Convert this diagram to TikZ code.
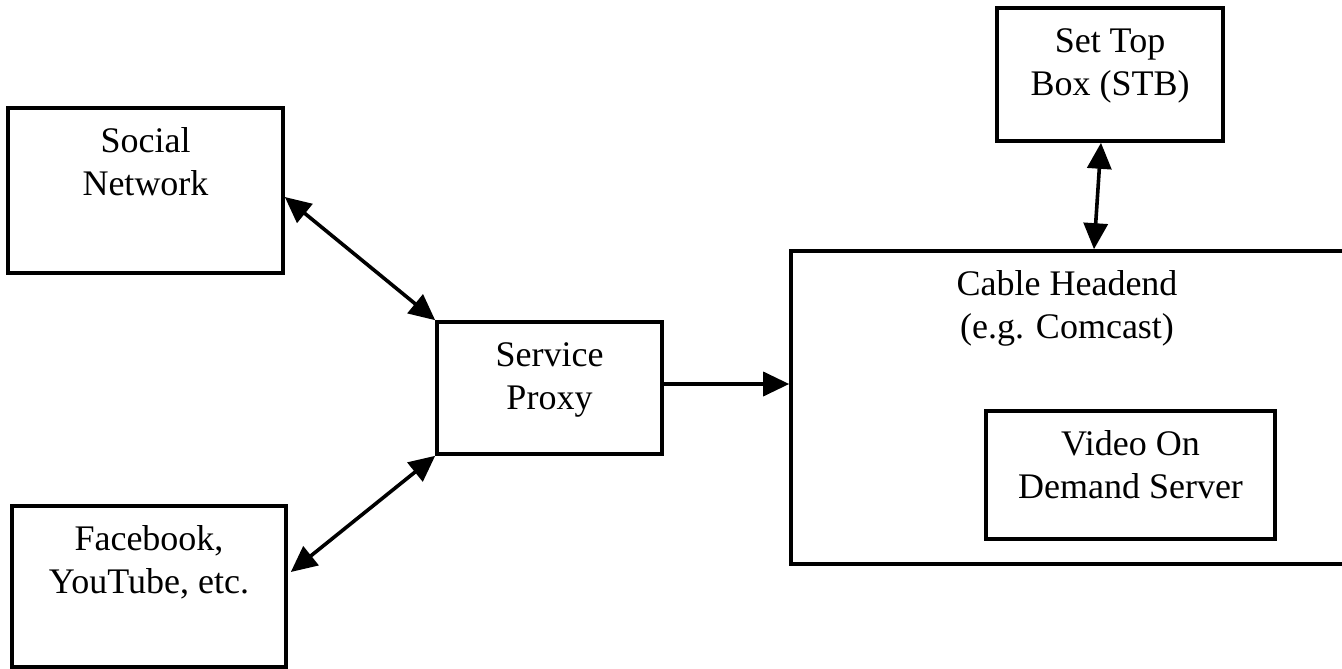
\documentclass[tikz,border=0pt]{standalone}
\usepackage{fontspec}
\setmainfont{Liberation Serif}
\usetikzlibrary{arrows.meta}
\tikzset{
  box/.style={draw, line width=3.6pt, rectangle, inner sep=0pt},
  lbl/.style={anchor=north, inner sep=0pt, align=center, font=\fontsize{36pt}{43pt}\selectfont},
  conn/.style={line width=3.6pt},
  bigtip/.tip={Triangle[length=26pt,width=24pt]}
}
\newcommand{\fl}{\rule{0pt}{30pt}}
\begin{document}
\begin{tikzpicture}[x=1pt,y=-1pt]
\useasboundingbox[fill=white] (0,0) rectangle (1342,669);
% boxes
\node[box, minimum width=275pt, minimum height=165pt] (soc) at (145.5,190.5) {};
\node[box, minimum width=274pt, minimum height=161pt] (fb) at (149,586.5) {};
\node[box, minimum width=225pt, minimum height=132pt] (prox) at (549.5,388) {};
\node[box, minimum width=226pt, minimum height=133pt] (stb) at (1110,74.5) {};
\node[box, minimum width=555pt, minimum height=313pt] (cable) at (1068.5,407.5) {};
\node[box, minimum width=289pt, minimum height=128pt] (vod) at (1130.5,475) {};
% labels
\node[lbl] (socT) at ([yshift=-16pt]soc.north) {\fl Social\\Network};
\node[lbl] (fbT) at ([yshift=-16pt]fb.north) {\fl Facebook,\\YouTube, etc.};
\node[lbl] (proxT) at ([yshift=-16pt]prox.north) {\fl Service\\Proxy};
\node[lbl] (stbT) at ([yshift=-16pt]stb.north) {\fl Set Top\\Box (STB)};
\node[lbl] (cableT) at ([xshift=-1.5pt,yshift=-16pt]cable.north) {\fl Cable Headend\\(e.g. Comcast)};
\node[lbl] (vodT) at ([yshift=-16pt]vod.north) {\fl Video On\\Demand Server};
% connectors
\coordinate (socE) at ([yshift=-6.5pt]soc.east);
\coordinate (fbE) at ([xshift=3pt,yshift=14.5pt]fb.east);
\coordinate (stbS) at ([xshift=-9pt]stb.south);
\coordinate (cabN) at ([xshift=-16pt]stb.south |- cable.north);
\coordinate (proxE) at ([yshift=4pt]prox.east);
\draw[conn, bigtip-bigtip] (socE) -- (prox.north west);
\draw[conn, bigtip-bigtip] (fbE) -- (prox.south west);
\draw[conn, -bigtip] (proxE) -- (cable.west |- proxE);
\draw[conn, bigtip-bigtip] (stbS) -- (cabN);
\end{tikzpicture}
\end{document}
